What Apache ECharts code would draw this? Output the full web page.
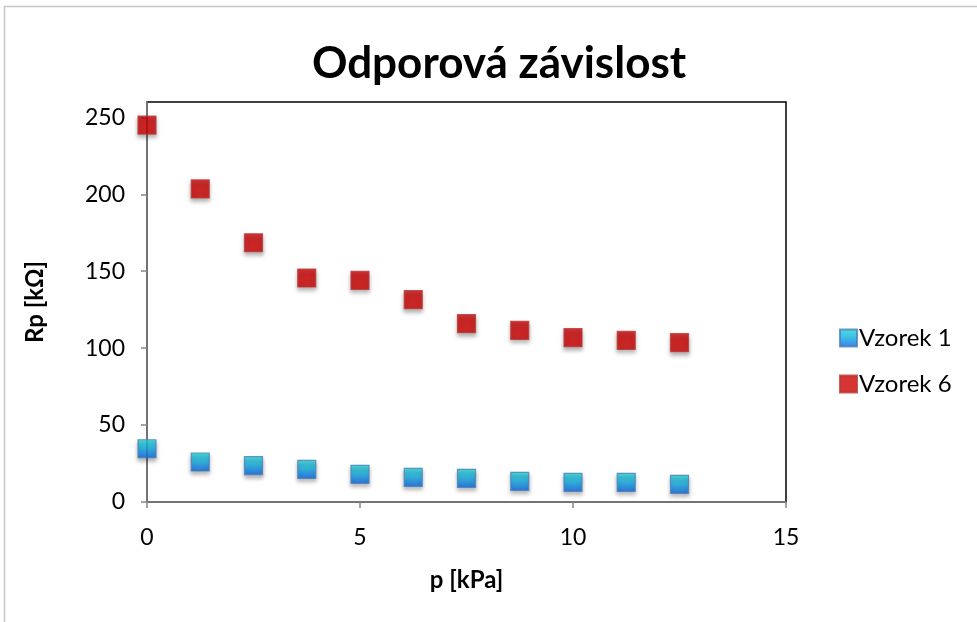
<!DOCTYPE html>
<html>
<head>
<meta charset="utf-8">
<script src="https://cdn.jsdelivr.net/npm/echarts@6/dist/echarts.min.js"></script>
<style>html,body{margin:0;padding:0;background:#fff}#c{width:977px;height:622px}</style>
</head>
<body>
<div id="c"></div>
<script>
const pressure = [0, 1.25, 2.5, 3.75, 5, 6.25, 7.5, 8.75, 10, 11.25, 12.5];
const vzorek1 = [34.6, 26.0, 23.7, 21.2, 18.0, 16.0, 15.4, 13.4, 12.8, 12.7, 11.5];
const vzorek6 = [245, 203.5, 168.5, 145.6, 144.0, 131.6, 116.0, 111.5, 106.9, 105.0, 103.6];
const xTicks = [0, 5, 10, 15];
const yTicks = [0, 50, 100, 150, 200, 250];
const seriesNames = ['Vzorek 1', 'Vzorek 6'];

const font = 'Lato, "Open Sans", sans-serif';
const chart = echarts.init(document.getElementById('c'), null, {renderer: 'canvas'});
const pairs = ys => pressure.map((x, i) => [x, ys[i]]);

chart.setOption({
  animation: false,
  backgroundColor: '#fff',
  graphic: [{
    type: 'rect', silent: true,
    shape: {x: 4.5, y: 6.5, width: 1200, height: 1200},
    style: {fill: 'none', stroke: '#c6c6c6', lineWidth: 1.5}
  }],
  title: {
    text: 'Odporová závislost',
    left: 494, top: 37, textAlign: 'center',
    textStyle: {fontFamily: font, fontWeight: 'bold', fontSize: 44, color: '#000'}
  },
  legend: {
    orient: 'vertical', left: 834, top: 321,
    itemWidth: 17, itemHeight: 17, itemGap: 22,
    icon: 'rect',
    textStyle: {fontFamily: font, fontSize: 24, color: '#000', padding: [0, 0, 0, -3]},
    data: seriesNames
  },
  grid: {
    left: 147, right: 191, top: 102, bottom: 120,
    show: true, borderColor: '#000', borderWidth: 1.5, backgroundColor: 'transparent'
  },
  xAxis: {
    type: 'value', min: 0, max: 15, interval: 5,
    name: 'p [kPa]', nameLocation: 'middle', nameGap: 66,
    nameTextStyle: {fontFamily: font, fontWeight: 'bold', fontSize: 24, color: '#000'},
    axisLine: {show: true, lineStyle: {color: '#868686', width: 1.5}},
    axisTick: {show: true, length: 6, lineStyle: {color: '#868686', width: 1.5}, customValues: xTicks},
    axisLabel: {fontFamily: font, fontSize: 23, color: '#000', margin: 24, customValues: xTicks},
    splitLine: {show: false}
  },
  yAxis: {
    type: 'value', min: 0, max: 260, interval: 50,
    name: 'Rp [kΩ]', nameLocation: 'middle', nameGap: 100, nameRotate: 90,
    nameTextStyle: {fontFamily: font, fontWeight: 'bold', fontSize: 24, color: '#000'},
    axisLine: {show: true, lineStyle: {color: '#868686', width: 1.5}},
    axisTick: {show: true, length: 6, lineStyle: {color: '#868686', width: 1.5}, customValues: yTicks},
    axisLabel: {fontFamily: font, fontSize: 23, color: '#000', margin: 22, customValues: yTicks},
    splitLine: {show: false}
  },
  series: [{
    name: seriesNames[0], type: 'scatter', symbol: 'rect', symbolSize: 18,
    data: pairs(vzorek1),
    itemStyle: {
      color: new echarts.graphic.LinearGradient(0, 0, 0, 1, [
        {offset: 0, color: '#1fd8d2'}, {offset: 0.45, color: '#10aee0'}, {offset: 1, color: '#0860e0'}
      ]),
      borderColor: '#4a7ebb', borderWidth: 1.2,
      shadowBlur: 4, shadowOffsetY: 3, shadowColor: 'rgba(0,0,0,0.35)'
    }
  }, {
    name: seriesNames[1], type: 'scatter', symbol: 'rect', symbolSize: 18,
    data: pairs(vzorek6),
    itemStyle: {
      color: '#cc0000', borderColor: '#b93a38', borderWidth: 1.2,
      shadowBlur: 4, shadowOffsetY: 3, shadowColor: 'rgba(0,0,0,0.35)'
    }
  }]
});
</script>
</body>
</html>
